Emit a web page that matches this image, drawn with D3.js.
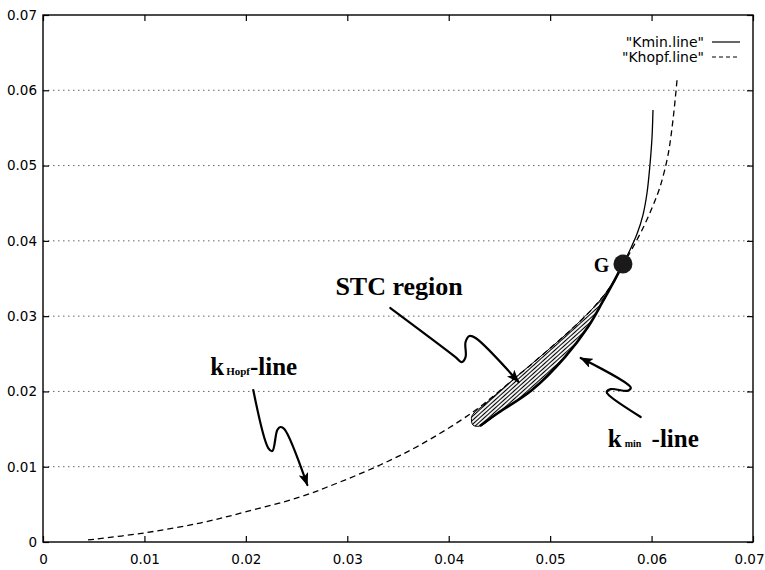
<!DOCTYPE html>
<html><head><meta charset="utf-8">
<script src="https://cdn.jsdelivr.net/npm/d3@7"></script>
<style>body{margin:0;background:#fff}</style>
</head><body><svg id="c" width="765" height="570"></svg>
<script>
// ---- data ----
const xTickValues = [0, 0.01, 0.02, 0.03, 0.04, 0.05, 0.06, 0.07];
const yTickValues = [0, 0.01, 0.02, 0.03, 0.04, 0.05, 0.06, 0.07];
const tickLabels  = ["0", "0.01", "0.02", "0.03", "0.04", "0.05", "0.06", "0.07"];
const legendLabels = ['"Kmin.line"', '"Khopf.line"'];

// Khopf line (dashed)
const khopfX = [0.00444, 0.00996, 0.01548, 0.01992, 0.02534, 0.02928, 0.03323, 0.03717, 0.04239, 0.04653, 0.04979, 0.05245, 0.05442, 0.05590, 0.05718, 0.05807, 0.05906, 0.06004, 0.06083, 0.06162, 0.06211, 0.06251];
const khopfY = [0.00027, 0.00120, 0.00252, 0.00398, 0.00598, 0.00797, 0.01023, 0.01288, 0.01727, 0.02178, 0.02550, 0.02869, 0.03135, 0.03387, 0.03679, 0.03892, 0.04144, 0.04436, 0.04715, 0.05140, 0.05605, 0.06137];

// Kmin line (solid), from the lower-left tip up to the top end
const kminX = [0.04308, 0.04486, 0.04821, 0.05146, 0.05373, 0.05511, 0.05610, 0.05718, 0.05787, 0.05856, 0.05915, 0.05955, 0.05984, 0.06004, 0.06014];
const kminY = [0.01541, 0.01713, 0.02019, 0.02457, 0.02856, 0.03175, 0.03414, 0.03692, 0.03879, 0.04091, 0.04343, 0.04636, 0.05008, 0.05366, 0.05738];

// STC region outline: upper edge (tip -> G) then lower edge (G -> tip)
const stcX = [0.04229, 0.04358, 0.04653, 0.04979, 0.05245, 0.05442, 0.05590, 0.05718, 0.05610, 0.05511, 0.05373, 0.05146, 0.04821, 0.04486, 0.04308, 0.04239];
const stcY = [0.01674, 0.01833, 0.02178, 0.02550, 0.02869, 0.03135, 0.03387, 0.03679, 0.03414, 0.03175, 0.02856, 0.02457, 0.02019, 0.01713, 0.01541, 0.01554];

// point G
const pointG = [0.05718, 0.03692];

// annotation arrows (data units)
const arrowStcX = [0.03425, 0.04067, 0.04126, 0.04166, 0.04166, 0.04205, 0.04265, 0.04689];
const arrowStcY = [0.03108, 0.02457, 0.02390, 0.02457, 0.02656, 0.02736, 0.02709, 0.02125];
const arrowHopfX = [0.02073, 0.02221, 0.02261, 0.02310, 0.02340, 0.02379, 0.02606];
const arrowHopfY = [0.02019, 0.01248, 0.01208, 0.01487, 0.01527, 0.01501, 0.00757];
const arrowMinX = [0.05893, 0.05588, 0.05558, 0.05597, 0.05765, 0.05795, 0.05301];
const arrowMinY = [0.01660, 0.01939, 0.01992, 0.02030, 0.02010, 0.02050, 0.02444];

// annotation label anchors (data units)
const labelStc  = [0.02883, 0.0328];
const labelHopf = [0.01649, 0.02218];
const labelMin  = [0.05568, 0.01262];
const labelG    = [0.05430, 0.03586];

// ---- drawing ----
const svg = d3.select("#c");
const L = 43, R = 753, T = 15, B = 542;
const x = d3.scaleLinear().domain([0, 0.07]).range([L, R]);
const y = d3.scaleLinear().domain([0, 0.07]).range([B, T]);
const zip = (xs, ys) => xs.map((v, i) => [v, ys[i]]);
const line = d3.line().x(d => x(d[0])).y(d => y(d[1])).curve(d3.curveCatmullRom.alpha(0.5));
const closed = d3.line().x(d => x(d[0])).y(d => y(d[1])).curve(d3.curveCatmullRomClosed.alpha(0.5));

const defs = svg.append("defs");
defs.append("marker").attr("id", "ah").attr("markerUnits", "userSpaceOnUse")
  .attr("markerWidth", 14).attr("markerHeight", 10).attr("refX", 12).attr("refY", 5)
  .attr("orient", "auto")
  .append("path").attr("d", "M0,0 L13,5 L0,10 L3,5 z").attr("fill", "#000");
const pat = defs.append("pattern").attr("id", "hatch").attr("patternUnits", "userSpaceOnUse")
  .attr("width", 6).attr("height", 3).attr("patternTransform", "rotate(-42)");
pat.append("rect").attr("width", 6).attr("height", 3).attr("fill", "#fff");
pat.append("line").attr("x1", 0).attr("x2", 6).attr("y1", 1.5).attr("y2", 1.5)
  .attr("stroke", "#000").attr("stroke-width", 1.1);

// grid (horizontal dotted)
svg.append("g").selectAll("line").data(yTickValues.slice(1, -1)).join("line")
  .attr("x1", L).attr("x2", R).attr("y1", d => y(d)).attr("y2", d => y(d))
  .attr("stroke", "#555").attr("stroke-width", 0.9).attr("stroke-dasharray", "1.5,3.5");

// axes with inward ticks
const fmt = (d, i) => tickLabels[i];
const gB = svg.append("g").attr("transform", `translate(0,${B})`)
  .call(d3.axisBottom(x).tickValues(xTickValues).tickSizeInner(-6).tickSizeOuter(0).tickFormat(fmt));
const gT = svg.append("g").attr("transform", `translate(0,${T})`)
  .call(d3.axisTop(x).tickValues(xTickValues).tickSizeInner(-6).tickSizeOuter(0).tickFormat(""));
const gL = svg.append("g").attr("transform", `translate(${L},0)`)
  .call(d3.axisLeft(y).tickValues(yTickValues).tickSizeInner(-6).tickSizeOuter(0).tickFormat(fmt));
const gR = svg.append("g").attr("transform", `translate(${R},0)`)
  .call(d3.axisRight(y).tickValues(yTickValues).tickSizeInner(-6).tickSizeOuter(0).tickFormat(""));
[gB, gT, gL, gR].forEach(g => {
  g.select(".domain").remove();
  g.selectAll(".tick line").attr("stroke", "#000").attr("stroke-width", 1.2);
  g.selectAll("text").attr("font-family", "DejaVu Sans").attr("font-size", 13.5).attr("fill", "#000");
});
gB.selectAll("text").attr("y", 12).attr("dy", "0.71em");
// last x label sits against the right edge of the page
gB.selectAll(".tick").filter((d, i) => i === xTickValues.length - 1).select("text")
  .attr("text-anchor", "end").attr("x", 764 - R);
gL.selectAll("text").attr("x", -6);

// frame
svg.append("rect").attr("x", L).attr("y", T).attr("width", R - L).attr("height", B - T)
  .attr("fill", "none").attr("stroke", "#000").attr("stroke-width", 1.4);

// STC region
svg.append("path").attr("d", closed(zip(stcX, stcY))).attr("fill", "url(#hatch)")
  .attr("stroke", "#000").attr("stroke-width", 1);
svg.append("path").attr("d", line(zip(kminX.slice(0, 8), kminY.slice(0, 8))))
  .attr("fill", "none").attr("stroke", "#000").attr("stroke-width", 2.6);

// curves
svg.append("path").attr("d", line(zip(khopfX, khopfY))).attr("fill", "none")
  .attr("stroke", "#000").attr("stroke-width", 1.3).attr("stroke-dasharray", "6,4");
svg.append("path").attr("d", line(zip(kminX, kminY))).attr("fill", "none")
  .attr("stroke", "#000").attr("stroke-width", 1.3);

// point G
svg.append("circle").attr("cx", x(pointG[0])).attr("cy", y(pointG[1])).attr("r", 9.5)
  .attr("fill", "#1a1a1a");

// legend
const lg = svg.append("g");
legendLabels.forEach((t, i) => {
  const yy = 42 + i * 15;
  lg.append("text").attr("x", 704).attr("y", yy).attr("dy", "0.35em").attr("text-anchor", "end")
    .attr("font-family", "DejaVu Sans").attr("font-size", 14).text(t);
  lg.append("line").attr("x1", 712).attr("x2", 740).attr("y1", yy).attr("y2", yy)
    .attr("stroke", "#000").attr("stroke-width", 1.2)
    .attr("stroke-dasharray", i === 1 ? "4,3" : null);
});

// arrows
[[arrowStcX, arrowStcY], [arrowHopfX, arrowHopfY], [arrowMinX, arrowMinY]].forEach(([ax, ay]) => {
  svg.append("path").attr("d", line(zip(ax, ay))).attr("fill", "none")
    .attr("stroke", "#000").attr("stroke-width", 2.2).attr("stroke-linecap", "round")
    .attr("marker-end", "url(#ah)");
});

// annotation labels
const serif = "Liberation Serif";
svg.append("text").attr("x", x(labelStc[0])).attr("y", y(labelStc[1]))
  .attr("font-family", serif).attr("font-weight", "bold").attr("font-size", 26).text("STC region");
const th = svg.append("text").attr("x", x(labelHopf[0])).attr("y", y(labelHopf[1]))
  .attr("font-family", serif).attr("font-weight", "bold").attr("font-size", 25);
th.append("tspan").text("k");
th.append("tspan").attr("font-size", 11).attr("dx", 2).text("Hopf");
th.append("tspan").text("-line");
const tm = svg.append("text").attr("x", x(labelMin[0])).attr("y", y(labelMin[1]))
  .attr("font-family", serif).attr("font-weight", "bold").attr("font-size", 25);
tm.append("tspan").text("k");
tm.append("tspan").attr("font-size", 10).attr("dx", 3).text("min");
tm.append("tspan").attr("dx", 4).text(" -line");
svg.append("text").attr("x", x(labelG[0])).attr("y", y(labelG[1]))
  .attr("font-family", serif).attr("font-weight", "bold").attr("font-size", 20).text("G");
</script></body></html>
